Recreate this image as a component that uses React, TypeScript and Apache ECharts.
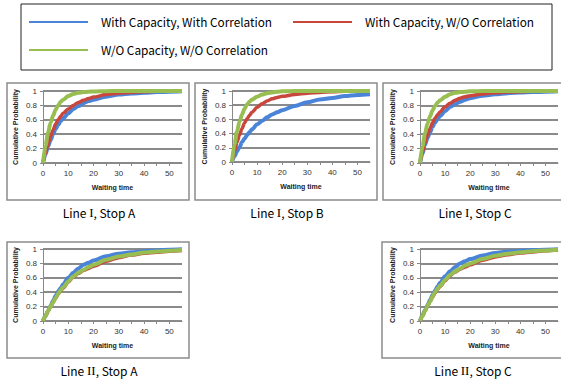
import React, { useEffect, useRef } from "react";
import * as echarts from "echarts";

const waitTimes = [0, 1, 2, 3, 4, 5, 6, 7, 8, 10, 12, 14, 16, 18, 20, 25, 30, 35, 40, 45, 50, 55];

const seriesNames = [
  "With Capacity, With Correlation",
  "With Capacity, W/O Correlation",
  "W/O Capacity, W/O Correlation",
];

const panelLines = ["I", "I", "I", "II", "II"];
const panelStops = ["A", "B", "C", "A", "C"];

// Line I, Stop A
const l1aBlue = [0, 0.12, 0.23, 0.32, 0.40, 0.47, 0.53, 0.58, 0.62, 0.69, 0.75, 0.79, 0.83, 0.86, 0.88, 0.92, 0.95, 0.965, 0.975, 0.985, 0.99, 0.995];
const l1aRed = [0, 0.14, 0.27, 0.37, 0.46, 0.54, 0.60, 0.65, 0.69, 0.75, 0.80, 0.84, 0.87, 0.895, 0.915, 0.95, 0.97, 0.98, 0.99, 0.995, 0.998, 1];
const l1aGreen = [0, 0.24, 0.42, 0.56, 0.66, 0.74, 0.80, 0.85, 0.88, 0.93, 0.96, 0.975, 0.985, 0.99, 0.993, 0.998, 1, 1, 1, 1, 1, 1];
// Line I, Stop B
const l1bBlue = [0, 0.08, 0.15, 0.21, 0.28, 0.33, 0.38, 0.42, 0.46, 0.53, 0.58, 0.63, 0.67, 0.70, 0.73, 0.79, 0.84, 0.88, 0.90, 0.93, 0.945, 0.955];
const l1bRed = [0, 0.15, 0.28, 0.38, 0.47, 0.55, 0.61, 0.66, 0.70, 0.77, 0.82, 0.86, 0.89, 0.91, 0.925, 0.95, 0.97, 0.98, 0.99, 0.995, 1, 1];
const l1bGreen = [0, 0.25, 0.43, 0.57, 0.67, 0.75, 0.81, 0.85, 0.88, 0.92, 0.95, 0.97, 0.98, 0.99, 0.995, 1, 1, 1, 1, 1, 1, 1];
// Line I, Stop C
const l1cBlue = [0, 0.13, 0.25, 0.35, 0.43, 0.50, 0.56, 0.61, 0.65, 0.72, 0.78, 0.82, 0.85, 0.88, 0.90, 0.935, 0.955, 0.97, 0.98, 0.985, 0.99, 0.995];
const l1cRed = [0, 0.15, 0.28, 0.39, 0.48, 0.56, 0.62, 0.67, 0.71, 0.78, 0.83, 0.87, 0.90, 0.92, 0.935, 0.96, 0.975, 0.985, 0.99, 0.995, 1, 1];
const l1cGreen = [0, 0.23, 0.41, 0.55, 0.65, 0.73, 0.79, 0.84, 0.87, 0.92, 0.955, 0.975, 0.985, 0.99, 0.995, 1, 1, 1, 1, 1, 1, 1];
// Line II, Stop A
const l2aBlue = [0, 0.07, 0.14, 0.21, 0.28, 0.35, 0.41, 0.46, 0.51, 0.60, 0.67, 0.73, 0.78, 0.81, 0.84, 0.90, 0.935, 0.955, 0.97, 0.98, 0.99, 0.995];
const l2aRed = [0, 0.07, 0.14, 0.20, 0.26, 0.32, 0.37, 0.42, 0.46, 0.54, 0.61, 0.66, 0.70, 0.73, 0.76, 0.83, 0.88, 0.915, 0.94, 0.955, 0.97, 0.98];
const l2aGreen = [0, 0.07, 0.14, 0.20, 0.26, 0.32, 0.38, 0.43, 0.47, 0.55, 0.62, 0.67, 0.71, 0.75, 0.78, 0.85, 0.895, 0.925, 0.95, 0.965, 0.975, 0.985];
// Line II, Stop C
const l2cBlue = [0, 0.08, 0.15, 0.22, 0.29, 0.36, 0.42, 0.48, 0.53, 0.62, 0.69, 0.75, 0.80, 0.83, 0.86, 0.91, 0.945, 0.965, 0.975, 0.985, 0.99, 0.995];
const l2cRed = [0, 0.07, 0.14, 0.21, 0.27, 0.33, 0.39, 0.44, 0.48, 0.56, 0.63, 0.68, 0.72, 0.75, 0.78, 0.845, 0.89, 0.92, 0.945, 0.96, 0.975, 0.985];
const l2cGreen = [0, 0.07, 0.14, 0.21, 0.27, 0.34, 0.40, 0.45, 0.49, 0.57, 0.64, 0.69, 0.73, 0.77, 0.80, 0.86, 0.905, 0.935, 0.955, 0.97, 0.98, 0.99];

const panelData = [
  [l1aBlue, l1aRed, l1aGreen],
  [l1bBlue, l1bRed, l1bGreen],
  [l1cBlue, l1cRed, l1cGreen],
  [l2aBlue, l2aRed, l2aGreen],
  [l2cBlue, l2cRed, l2cGreen],
];

const xTicks = [0, 10, 20, 30, 40, 50];

export default function App() {
  const ref = useRef<HTMLDivElement>(null);
  useEffect(() => {
    if (!ref.current) return;
    const chart = echarts.init(ref.current, null, { renderer: "svg" });
    const colors = ["#4A84D8", "#C8463C", "#98BE52"];
    const widths = [4, 3.5, 4];
    const grids = [
      { left: 43, top: 91, width: 139, height: 72 },
      { left: 232, top: 91, width: 138, height: 71 },
      { left: 420, top: 91, width: 138, height: 72 },
      { left: 43, top: 249, width: 139, height: 72 },
      { left: 420, top: 249, width: 138, height: 72 },
    ];
    const boxes = [
      { x: 7, y: 83, w: 182, h: 117 },
      { x: 195, y: 83, w: 182, h: 117 },
      { x: 383, y: 83, w: 180, h: 117 },
      { x: 7, y: 242, w: 182, h: 116 },
      { x: 382, y: 242, w: 181, h: 116 },
    ];
    const labelPos = [
      { x: 99, y: 212 },
      { x: 287, y: 212 },
      { x: 475, y: 212 },
      { x: 99, y: 370 },
      { x: 473, y: 370 },
    ];
    const axisFont = { fontFamily: "Liberation Sans", fontSize: 8, color: "#333" };
    const xAxes = grids.map((_, i) => ({
      type: "value",
      gridIndex: i,
      min: 0,
      max: 55,
      interval: 5,
      name: "Waiting time",
      nameLocation: "middle",
      nameGap: 21,
      nameTextStyle: { fontFamily: "Liberation Sans", fontSize: 7, fontWeight: "bold", color: "#222" },
      axisLine: { show: true, lineStyle: { color: "#888", width: 1 } },
      axisTick: { show: true, length: 3, inside: false, lineStyle: { color: "#888" } },
      axisLabel: {
        ...axisFont,
        margin: 6,
        showMaxLabel: false,
        formatter: (v: number) => (xTicks.includes(v) ? String(v) : ""),
      },
      splitLine: { show: false },
    }));
    const yAxes = grids.map((_, i) => ({
      type: "value",
      gridIndex: i,
      min: 0,
      max: 1,
      interval: 0.2,
      name: "Cumulative Probability",
      nameLocation: "middle",
      nameGap: 24,
      nameTextStyle: { fontFamily: "Liberation Sans", fontSize: 7, fontWeight: "bold", color: "#222" },
      axisLine: { show: true, lineStyle: { color: "#888", width: 1 } },
      axisTick: { show: true, length: 3, lineStyle: { color: "#888" } },
      axisLabel: { ...axisFont, margin: 6, formatter: (v: number) => String(Math.round(v * 10) / 10) },
      splitLine: { show: true, lineStyle: { color: "#8a8a8a", width: 2 } },
    }));
    const series: any[] = [];
    panelData.forEach((set, p) => {
      set.forEach((vals, s) => {
        series.push({
          type: "line",
          name: seriesNames[s],
          xAxisIndex: p,
          yAxisIndex: p,
          data: waitTimes.map((t, k) => [t, vals[k]]),
          showSymbol: false,
          smooth: 0.3,
          smoothMonotone: "x",
          lineStyle: { color: colors[s], width: widths[s] },
          itemStyle: { color: colors[s] },
          z: 2 + s,
        });
      });
    });
    const legendText = { fontFamily: "Noto Sans CJK JP", fontSize: 11.8, color: "#000", padding: [0, 0, 0, 8] };
    const legendBase = {
      icon: "rect",
      itemWidth: 59,
      itemHeight: 2,
      textStyle: legendText,
      padding: 0,
    };
    const graphics: any[] = [
      {
        type: "rect",
        shape: { x: 21, y: 4, width: 531, height: 66 },
        style: { fill: "none", stroke: "#222", lineWidth: 1 },
        silent: true,
      },
    ];
    boxes.forEach((b) => {
      graphics.push({
        type: "rect",
        shape: { x: b.x, y: b.y, width: b.w, height: b.h },
        style: { fill: "none", stroke: "#8c8c8c", lineWidth: 1.5 },
        silent: true,
        z: -1,
      });
    });
    labelPos.forEach((lp, i) => {
      graphics.push({
        type: "text",
        x: lp.x,
        y: lp.y,
        style: {
          text: `{a|Line }{r|${panelLines[i]}}{a|, Stop ${panelStops[i]}}`,
          rich: {
            a: { fontFamily: "Noto Sans CJK JP", fontSize: 12, fill: "#000", color: "#000", verticalAlign: "middle", lineHeight: 16 },
            r: { fontFamily: "Liberation Serif", fontSize: 13, fill: "#000", color: "#000", verticalAlign: "middle", lineHeight: 16 },
          },
          fill: "#000",
          align: "center",
          verticalAlign: "middle",
        },
      });
    });
    chart.setOption({
      animation: false,
      backgroundColor: "#fff",
      color: colors,
      legend: [
        { ...legendBase, data: [seriesNames[0]], left: 29, top: 16 },
        { ...legendBase, data: [seriesNames[1]], left: 293, top: 16 },
        { ...legendBase, data: [seriesNames[2]], left: 29, top: 44 },
      ],
      grid: grids,
      xAxis: xAxes,
      yAxis: yAxes,
      series,
      graphic: graphics,
    });
    return () => chart.dispose();
  }, []);
  return (
    <div
      ref={ref}
      style={{ position: "fixed", left: 0, top: 0, width: 561, height: 381 }}
    />
  );
}
